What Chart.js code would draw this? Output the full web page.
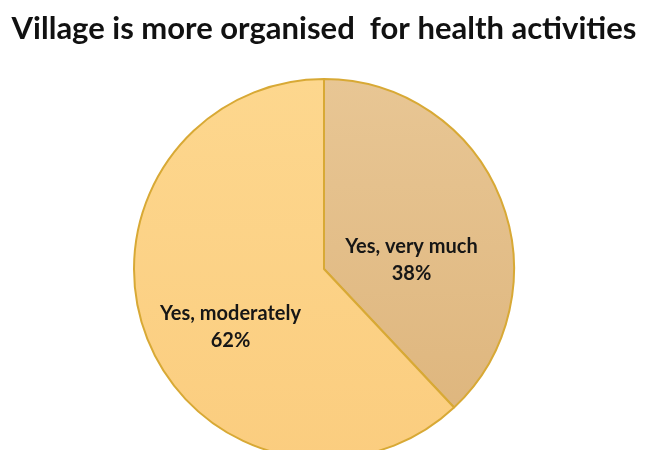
<!DOCTYPE html>
<html>
<head>
<meta charset="utf-8">
<script src="https://cdn.jsdelivr.net/npm/chart.js@4.4.1/dist/chart.umd.min.js"></script>
<style>
  html, body { margin: 0; padding: 0; background: #ffffff; overflow: hidden; }
  #wrap { width: 650px; height: 460px; }
</style>
</head>
<body>
<div id="wrap"><canvas id="c" width="650" height="460"></canvas></div>
<script>
// Survey answers and their shares (percent)
const categories = ['Yes, very much', 'Yes, moderately'];
const shares = [38, 62];
const chartTitle = 'Village is more organised  for health activities';

// Gradient fills per slice: [top colour, bottom colour]
const sliceGradients = [
  ['#e8c694', '#ddb47b'],
  ['#fdd78e', '#fbcd7f']
];

function sliceFill(ctx) {
  const chart = ctx.chart;
  const area = chart.chartArea;
  if (!area) return sliceGradients[ctx.dataIndex][0];
  const g = chart.ctx.createLinearGradient(0, area.top, 0, area.bottom);
  g.addColorStop(0, sliceGradients[ctx.dataIndex][0]);
  g.addColorStop(1, sliceGradients[ctx.dataIndex][1]);
  return g;
}

// Slice labels: name on one line, percentage below, placed inside each slice
const labelPlacement = [
  { turn: 0.274, frac: 0.463 },
  { turn: -0.173, frac: 0.577 }
];
const sliceLabels = {
  id: 'sliceLabels',
  afterDatasetsDraw(chart) {
    const ctx = chart.ctx;
    const meta = chart.getDatasetMeta(0);
    ctx.save();
    ctx.font = 'bold 20px Lato, "Liberation Sans", sans-serif';
    ctx.fillStyle = '#161616';
    ctx.textAlign = 'center';
    ctx.textBaseline = 'middle';
    meta.data.forEach((arc, i) => {
      const p = arc.getProps(['x', 'y', 'startAngle', 'endAngle', 'outerRadius'], true);
      const mid = (p.startAngle + p.endAngle) / 2 + labelPlacement[i].turn;
      const r = p.outerRadius * labelPlacement[i].frac;
      const x = p.x + Math.cos(mid) * r;
      const y = p.y + Math.sin(mid) * r;
      ctx.fillText(categories[i], x, y - 13);
      ctx.fillText(shares[i] + '%', x, y + 14);
    });
    ctx.restore();
  }
};

new Chart(document.getElementById('c'), {
  type: 'pie',
  data: {
    labels: categories,
    datasets: [{
      data: shares,
      backgroundColor: sliceFill,
      borderColor: '#d8a935',
      borderWidth: 2,
      clip: false
    }]
  },
  options: {
    responsive: false,
    animation: false,
    layout: { padding: { left: 0, right: 2, top: 0, bottom: 0 } },
    plugins: {
      legend: { display: false },
      tooltip: { enabled: false },
      title: {
        display: true,
        text: chartTitle,
        color: '#111111',
        font: { family: 'Lato, "Liberation Sans", sans-serif', size: 31, weight: 'bold', lineHeight: 1.2 },
        padding: { top: 10, bottom: 30.8 }
      }
    }
  },
  plugins: [sliceLabels]
});
</script>
</body>
</html>
